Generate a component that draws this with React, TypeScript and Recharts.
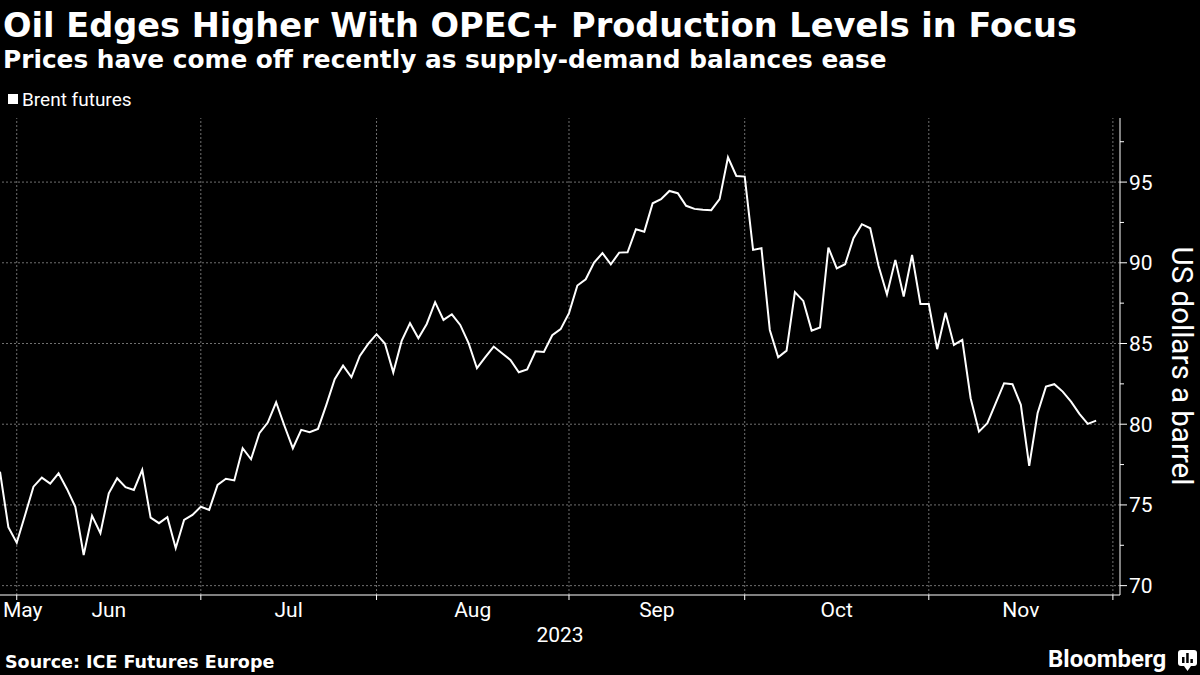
import React from "react";
import { LineChart, Line, XAxis, YAxis, ReferenceLine } from "recharts";

// ── Data ──────────────────────────────────────────────────────────────────────

// Brent futures settlement, one value per trading session (late May – 28 Nov 2023)
const PRICES = [
  77.06, 73.62, 72.66, 74.38, 76.13, 76.69, 76.32, 76.96, 75.99, 74.89,
  71.9, 74.32, 73.25, 75.72, 76.65, 76.1, 75.93, 77.17, 74.21, 73.87,
  74.24, 72.32, 74.07, 74.38, 74.89, 74.69, 76.24, 76.62, 76.52, 78.51,
  77.83, 79.44, 80.1, 81.36, 79.89, 78.51, 79.65, 79.5, 79.71, 81.2,
  82.79, 83.63, 82.91, 84.23, 84.98, 85.58, 85.0, 83.21, 85.16, 86.26,
  85.33, 86.21, 87.56, 86.46, 86.81, 86.15, 85.02, 83.47, 84.15, 84.81,
  84.4, 83.98, 83.22, 83.4, 84.52, 84.48, 85.51, 85.89, 86.88, 88.59,
  88.98, 90.01, 90.6, 89.91, 90.63, 90.65, 92.08, 91.93, 93.69, 93.94,
  94.45, 94.31, 93.53, 93.34, 93.28, 93.26, 93.94, 96.54, 95.38, 95.34,
  90.8, 90.9, 85.84, 84.15, 84.56, 88.18, 87.64, 85.8, 85.99, 90.94,
  89.66, 89.91, 91.52, 92.39, 92.14, 89.8, 88.04, 90.18, 87.91, 90.49,
  87.45, 87.45, 84.65, 86.91, 84.91, 85.22, 81.61, 79.54, 80.06, 81.3,
  82.54, 82.48, 81.2, 77.42, 80.68, 82.33, 82.48, 82.02, 81.4, 80.64,
  80.02, 80.22,
];

// trading-session index of the last session of each month (grid lines)
const MONTH_ENDS = [2, 24, 45, 68, 89, 111, 133];
// month labels and the session index they sit at
const MONTH_LABELS = ["May", "Jun", "Jul", "Aug", "Sep", "Oct", "Nov"];
const MONTH_LABEL_AT = [0, 13, 34.5, 56.5, 78.5, 100, 122];

const Y_TICKS = [70, 72.5, 75, 77.5, 80, 82.5, 85, 87.5, 90, 92.5, 95, 97.5];
const Y_GRID = [70, 75, 80, 85, 90, 95];

const data = PRICES.map((price, i) => ({ i, price }));

// ── Styles ────────────────────────────────────────────────────────────────────

const GRID = "#707070";
const TICK_FONT = "Roboto, 'Open Sans', sans-serif";
const HEAD_FONT = "'DejaVu Sans', Verdana, sans-serif";

// ── Custom ticks ──────────────────────────────────────────────────────────────

function MonthTick({ x, y, payload }: any) {
  const v = payload.value;
  if (MONTH_ENDS.includes(v)) {
    return <line x1={x} x2={x} y1={y} y2={y + 5} stroke="#fff" strokeWidth={1} />;
  }
  const idx = MONTH_LABEL_AT.indexOf(v);
  if (idx < 0) return null;
  const first = idx === 0;
  return (
    <text
      x={first ? x + 3 : x}
      y={y + 22}
      textAnchor={first ? "start" : "middle"}
      fill="#fff"
      fontSize={21}
      fontFamily={TICK_FONT}
    >
      {MONTH_LABELS[idx]}
    </text>
  );
}

function PriceTick({ x, y, payload }: any) {
  const v = payload.value;
  const major = v % 5 === 0;
  return (
    <g>
      <line x1={x} x2={x + (major ? 7 : 4)} y1={y} y2={y} stroke="#fff" strokeWidth={1} />
      {major && (
        <text x={x + 9} y={y + 7.5} fill="#fff" fontSize={21} fontFamily={TICK_FONT}>
          {v}
        </text>
      )}
    </g>
  );
}

// ── Component ─────────────────────────────────────────────────────────────────

export default function App() {
  return (
    <div style={{ position: "relative", width: 1200, height: 675, background: "#000", overflow: "hidden" }}>
      <style>{"body{margin:0;background:#000}"}</style>

      <LineChart
        width={1200}
        height={675}
        data={data}
        margin={{ top: 118, right: 0, bottom: 40, left: 0 }}
      >
        {MONTH_ENDS.map((m) => (
          <ReferenceLine key={`v${m}`} x={m} stroke={GRID} strokeDasharray="2 2" />
        ))}
        {Y_GRID.map((v) => (
          <ReferenceLine key={`h${v}`} y={v} stroke={GRID} strokeDasharray="2 2" />
        ))}
        <XAxis
          dataKey="i"
          type="number"
          domain={[0, 133.85]}
          allowDataOverflow
          ticks={[...MONTH_LABEL_AT, ...MONTH_ENDS].sort((a, b) => a - b)}
          interval={0}
          tick={<MonthTick />}
          tickLine={false}
          tickSize={0}
          tickMargin={0}
          axisLine={{ stroke: "#fff", strokeWidth: 1 }}
          height={40}
        />
        <YAxis
          orientation="right"
          type="number"
          domain={[69.42, 98.97]}
          allowDataOverflow
          ticks={Y_TICKS}
          interval={0}
          tick={<PriceTick />}
          tickLine={false}
          tickSize={0}
          tickMargin={0}
          axisLine={{ stroke: "#fff", strokeWidth: 1 }}
          width={80}
        />
        <Line
          type="linear"
          dataKey="price"
          stroke="#fff"
          strokeWidth={2}
          dot={false}
          activeDot={false}
          isAnimationActive={false}
        />
      </LineChart>

      {/* Text overlay */}
      <svg width={1200} height={675} style={{ position: "absolute", left: 0, top: 0, pointerEvents: "none" }}>
        <text x={3} y={37} fill="#fff" fontSize={33.6} fontWeight={700} fontFamily={HEAD_FONT}>
          Oil Edges Higher With OPEC+ Production Levels in Focus
        </text>
        <text x={3} y={68} fill="#fff" fontSize={24.8} fontWeight={700} fontFamily={HEAD_FONT}>
          Prices have come off recently as supply-demand balances ease
        </text>

        <rect x={8} y={94} width={10} height={10} fill="#fff" />
        <text x={22} y={106} fill="#fff" fontSize={19} fontFamily={TICK_FONT}>
          Brent futures
        </text>

        <text x={560} y={642} fill="#fff" fontSize={21} textAnchor="middle" fontFamily={TICK_FONT}>
          2023
        </text>

        <text
          transform="translate(1172,366) rotate(90)"
          fill="#fff"
          fontSize={29.5}
          textAnchor="middle"
          fontFamily={TICK_FONT}
        >
          US dollars a barrel
        </text>

        <text x={5} y={668} fill="#fff" fontSize={17.5} fontWeight={700} fontFamily={HEAD_FONT}>
          Source: ICE Futures Europe
        </text>

        <text x={1048} y={667} fill="#fff" fontSize={24} fontWeight={700} fontFamily={TICK_FONT}>
          Bloomberg
        </text>
        <g>
          <rect x={1178} y={650} width={19} height={16} rx={3} fill="#fff" />
          <path d="M1184 666 L1187.5 671 L1191 666 Z" fill="#fff" />
          <rect x={1182} y={657} width={2.5} height={6} fill="#000" />
          <rect x={1186.2} y={653} width={2.5} height={10} fill="#000" />
          <rect x={1190.4} y={659} width={2.5} height={4} fill="#000" />
        </g>
      </svg>
    </div>
  );
}
